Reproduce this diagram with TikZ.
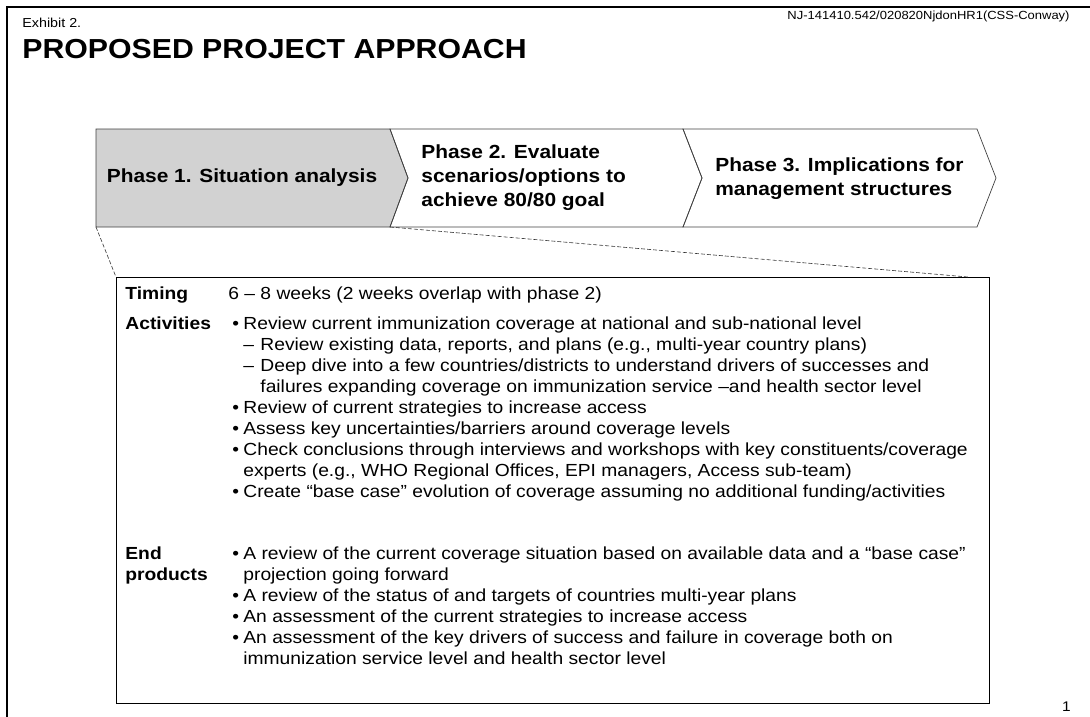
\documentclass[tikz,border=0pt]{standalone}
\usepackage{fontspec}
\setmainfont[FakeStretch=1.1]{Liberation Sans}
\usetikzlibrary{arrows,shapes,positioning}

\begin{document}
\begin{tikzpicture}[x=1pt,y=-1pt,thick]
\tikzstyle{chev}=[draw=black!75,line width=0.7pt]
\tikzstyle{ptitle}=[font=\bfseries\fontsize{19}{24}\selectfont,align=left,inner sep=0pt]
\tikzstyle{lbl}=[font=\bfseries\fontsize{17.5}{21}\selectfont,anchor=base west,inner sep=0pt,align=left]
\tikzstyle{txt}=[font=\fontsize{17.5}{21}\selectfont,anchor=base west,inner sep=0pt,align=left]
\tikzstyle{zoomline}=[dash pattern=on 4pt off 2pt,line width=0.6pt,black!80]
\useasboundingbox (0,0) rectangle (1090,717);
\draw[line width=1.2pt] (7,717) |- (1090,7);

% header
\node[anchor=base west,inner sep=0pt,font=\fontsize{13}{15}\selectfont] (exhibit) at (22,28) {Exhibit 2.};
\node[anchor=base west,inner sep=0pt,font=\bfseries\fontsize{27.5}{30}\selectfont] (title) at (22,59) {PROPOSED PROJECT APPROACH};
\node[anchor=base east,inner sep=0pt,font=\fontsize{11.8}{14}\selectfont] (docref) at (1070,20) {NJ-141410.542/020820NjdonHR1(CSS-Conway)};
\node[anchor=base east,inner sep=0pt,font=\fontsize{14}{16}\selectfont] (pagenum) at (1071,711) {1};

% phase chevrons
\coordinate (p1sw) at (96,227);
\coordinate (p1se) at (390,227);
\draw[chev,fill=gray!35] (96,129) -- (390,129) -- (408,178) -- (p1se) -- (p1sw) -- cycle;
\draw[chev] (390,129) -- (683,129) -- (702,178) -- (683,227) -- (p1se) -- (408,178) -- cycle;
\draw[chev] (683,129) -- (977,129) -- (996,178) -- (977,227) -- (683,227) -- (702,178) -- cycle;
\node[ptitle] (phase1) at (242,178) {Phase 1. Situation analysis};
\node[ptitle,anchor=west] (phase2) at (421,178) {Phase 2. Evaluate\\scenarios/options to\\achieve 80/80 goal};
\node[ptitle,anchor=west] (phase3) at (715,179) {Phase 3. Implications for\\management structures};

% detail box for phase 1
\node[draw,line width=0.8pt,inner sep=0pt,minimum width=873pt,minimum height=426pt,anchor=north west] (detail) at (116,277) {};
\coordinate (zoomend) at (968,277);
\draw[zoomline] (p1sw) -- (detail.north west);
\draw[zoomline] (p1se) -- (zoomend);

% timing
\node[lbl] (timing) at (125,299) {Timing};
\node[txt] (timingtxt) at (228,299) {6 -- 8 weeks (2 weeks overlap with phase 2)};

% activities (two-line nodes sit on their last baseline)
\node[lbl] (activities) at (125,329) {Activities};
\foreach \y in {329,413,434,455,497,559,601,622,643}
  \node[txt] (b\y) at (232,\y) {\textbullet};
\node[txt] (act1) at (243,329) {Review current immunization coverage at national and sub-national level};
\node[txt] (d1) at (243,350) {--};
\node[txt] (act1a) at (260,350) {Review existing data, reports, and plans (e.g., multi-year country plans)};
\node[txt] (d2) at (243,371) {--};
\node[txt] (act1b) at (260,392) {Deep dive into a few countries/districts to understand drivers of successes and\\failures expanding coverage on immunization service --and health sector level};
\node[txt] (act2) at (243,413) {Review of current strategies to increase access};
\node[txt] (act3) at (243,434) {Assess key uncertainties/barriers around coverage levels};
\node[txt] (act4) at (243,476) {Check conclusions through interviews and workshops with key constituents/coverage\\experts (e.g., WHO Regional Offices, EPI managers, Access sub-team)};
\node[txt] (act5) at (243,497) {Create “base case” evolution of coverage assuming no additional funding/activities};

% end products
\node[lbl] (endprod) at (125,580) {End\\products};
\node[txt] (ep1) at (243,580) {A review of the current coverage situation based on available data and a “base case”\\projection going forward};
\node[txt] (ep2) at (243,601) {A review of the status of and targets of countries multi-year plans};
\node[txt] (ep3) at (243,622) {An assessment of the current strategies to increase access};
\node[txt] (ep4) at (243,664) {An assessment of the key drivers of success and failure in coverage both on\\immunization service level and health sector level};
\end{tikzpicture}
\end{document}
